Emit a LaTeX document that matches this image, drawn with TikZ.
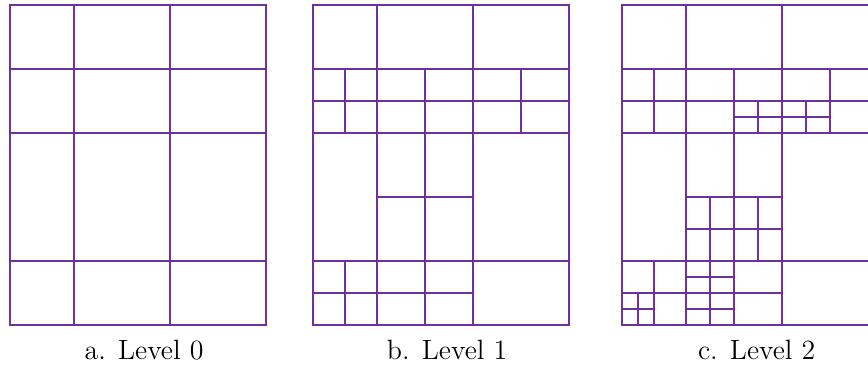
\documentclass[tikz,border=0pt]{standalone}
\usepackage{xcolor}
\definecolor{viola}{RGB}{112,48,160}

\begin{document}
\begin{tikzpicture}[x=0.5cm, y=0.5cm, cella/.style={viola, line width=0.8pt},
  didascalia/.style={font=\fontsize{12.4pt}{15pt}\selectfont}]
\clip (0,0) rectangle (27.125,11.594);

% livello 0
\begin{scope}[shift={(0.303,1.44)}]
\draw[cella] (0,0) rectangle (8,10);
\draw[cella] (2,0) -- (2,10) (5,0) -- (5,10);
\draw[cella] (0,2) -- (8,2) (0,6) -- (8,6) (0,8) -- (8,8);
\node[didascalia] (labelA) at (4.2,-0.78) {a. Level 0};
\end{scope}

% livello 1
\begin{scope}[shift={(9.772,1.44)}]
\draw[cella] (0,0) rectangle (8,10);
\draw[cella] (2,0) -- (2,10) (5,0) -- (5,10);
\draw[cella] (0,2) -- (8,2) (0,6) -- (8,6) (0,8) -- (8,8);
\draw[cella] (0,7) -- (8,7) (1,6) -- (1,8) (3.5,6) -- (3.5,8) (6.5,6) -- (6.5,8);
\draw[cella] (3.5,2) -- (3.5,6) (2,4) -- (5,4);
\draw[cella] (0,1) -- (5,1) (1,0) -- (1,2) (3.5,0) -- (3.5,2);
\node[didascalia] (labelB) at (4.2,-0.78) {b. Level 1};
\end{scope}

% livello 2
\begin{scope}[shift={(19.447,1.44)}]
\draw[cella] (0,0) rectangle (8,10);
\draw[cella] (2,0) -- (2,10) (5,0) -- (5,10);
\draw[cella] (0,2) -- (8,2) (0,6) -- (8,6) (0,8) -- (8,8);
\draw[cella] (0,7) -- (8,7) (1,6) -- (1,8) (3.5,6) -- (3.5,8) (6.5,6) -- (6.5,8);
\draw[cella] (3.5,2) -- (3.5,6) (2,4) -- (5,4);
\draw[cella] (0,1) -- (5,1) (1,0) -- (1,2) (3.5,0) -- (3.5,2);
% suddivisioni fini
\draw[cella] (3.5,6.5) -- (6.5,6.5) (4.25,6) -- (4.25,7) (5.75,6) -- (5.75,7);
\draw[cella] (2,3) -- (5,3) (2.75,2) -- (2.75,4) (4.25,2) -- (4.25,4);
\draw[cella] (0,0.5) -- (1,0.5) (0.5,0) -- (0.5,1);
\draw[cella] (2,1.5) -- (3.5,1.5) (2,0.5) -- (3.5,0.5) (2.75,0) -- (2.75,2);
\node[didascalia] (labelC) at (4.2,-0.78) {c. Level 2};
\end{scope}

\end{tikzpicture}
\end{document}
